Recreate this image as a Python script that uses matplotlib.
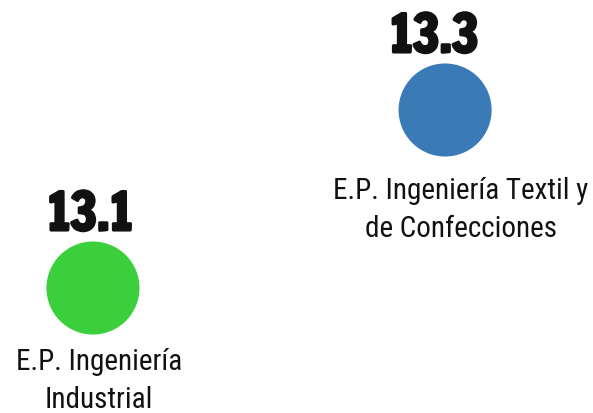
import matplotlib
matplotlib.use("Agg")
import matplotlib.pyplot as plt
import matplotlib.patheffects as pe

programs = ["E.P. Ingeniería\nIndustrial", "E.P. Ingeniería Textil y\nde Confecciones"]
values = [13.1, 13.3]
colors = ["#3ccf3c", "#3a7ab7"]

fig = plt.figure(figsize=(5.93, 4.14), dpi=100)
ax = fig.add_axes([0, 0, 1, 1])

x = list(range(len(values)))
ax.scatter(x, values, s=4490, c=colors, linewidths=0, zorder=2)

# per-point nudges (pixels) so the text sits as in the original
num_dx = [-3, -11]
lab_dx = [6, 16]
lab_dy = [-119, -126]
for i, (v, name) in enumerate(zip(values, programs)):
    ax.annotate(f"{v:.1f}", (i, v), xytext=(num_dx[i], 58), textcoords="offset pixels",
                ha="center", va="baseline", fontsize=37, family="Francois One",
                color="#111111",
                path_effects=[pe.withStroke(linewidth=2.2, foreground="#111111")])
    ax.annotate(name, (i, v), xytext=(lab_dx[i], lab_dy[i]), textcoords="offset pixels",
                ha="center", va="baseline", fontsize=21, linespacing=1.45,
                family="Roboto Condensed", color="#111111")

ax.set_xlim(-0.264, 1.42)
ax.set_ylim(12.9596, 13.4247)
ax.axis("off")

fig.savefig("out.png", dpi=100)
